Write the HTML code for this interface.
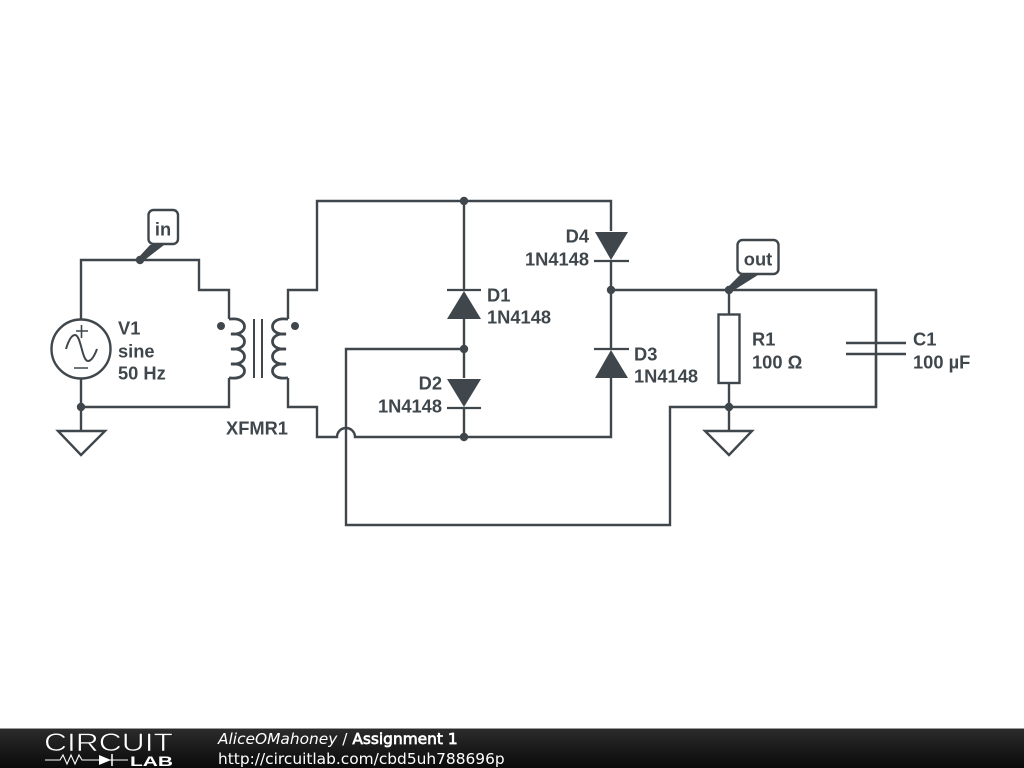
<!DOCTYPE html>
<html>
<head>
<meta charset="utf-8">
<style>
html,body{margin:0;padding:0;background:#fff;width:1024px;height:768px;overflow:hidden}
svg{display:block;position:absolute;left:0;top:0}
.t{font-family:"Liberation Sans",sans-serif;font-weight:bold;font-size:18.3px;fill:#3f474c}
.f{font-family:"DejaVu Sans",sans-serif;font-size:15.4px;fill:#fff}
</style>
</head>
<body>
<svg width="1024" height="768" viewBox="0 0 1024 768" xmlns="http://www.w3.org/2000/svg">
<defs>
<linearGradient id="g" x1="0" y1="0" x2="0" y2="1"><stop offset="0" stop-color="#2b2b2b"/><stop offset="1" stop-color="#0a0a0a"/></linearGradient>
</defs>
<rect width="1024" height="768" fill="#fff"/>
<g fill="none" stroke="#3f474c" stroke-width="2.4">
<!-- left loop -->
<path d="M81 319V260H199V290H229V319"/>
<path d="M81 378V407H229V378"/>
<path d="M81 407V431"/>
<path d="M58 431H105L81 455Z"/>
<circle cx="81" cy="349" r="29.5"/>
<path d="M81.500 325V338M76 331H88M74 368H88" stroke-width="1.6"/>
<path d="M66 349C69 339 72 335 75 335C81 335 82 361 88 361C91 361 94 357 97 349" stroke-width="2"/>
<!-- transformer -->
<path d="M229 319H231C249 317 249 336 231 334C249 332 249 351 231 349C249 347 249 366 231 364C249 362 249 380 231 378H229" stroke-width="2.8"/>
<path d="M288 319H286C268 317 268 336 286 334C268 332 268 351 286 349C268 347 268 366 286 364C268 362 268 380 286 378H288" stroke-width="2.8"/>
<path d="M254 319V378M262 319V378" stroke-width="2"/>
<!-- secondary -->
<path d="M288 319V290H317V201H611V231"/>
<path d="M288 378V407H317V437H337A9 9 0 0 1 355 437H611V378"/>
<!-- bridge -->
<path d="M464 201V290"/>
<path d="M464 319V378M464 408V437"/>
<path d="M464 349H346V525H670V407H876V290H611"/>
<path d="M611 261V349"/>
<path d="M447 290H481M447 408H481M594 261H629M594 349H629" stroke-width="2.2"/>
<!-- R1, C1 -->
<path d="M729 290V314M729 383V431"/>
<rect x="718.500" y="314.500" width="21" height="68.500" fill="#fff"/>
<path d="M705 431H752L729 455Z"/>
<path d="M876 290V343M876 354V407"/>
<path d="M846 343H906M846 354H906"/>
<!-- labels boxes -->
<rect x="148.500" y="210" width="29.500" height="34" rx="5" fill="#fff"/>
<rect x="737.500" y="240" width="41" height="34" rx="5" fill="#fff"/>
</g>
<g fill="#3f474c">
<polygon points="447,319 481,319 464,291"/>
<polygon points="447,379 481,379 464,407"/>
<polygon points="595,232 628,232 611,260"/>
<polygon points="595,378 628,378 611,350"/>
<polygon points="138,258 142,262 164,245 150,245"/>
<polygon points="727,288 731,292 758,275 740,275"/>
<circle cx="140" cy="260" r="4.200"/>
<circle cx="81" cy="407" r="4.200"/>
<circle cx="464" cy="201" r="4.200"/>
<circle cx="464" cy="349" r="4.200"/>
<circle cx="464" cy="437" r="4.200"/>
<circle cx="611" cy="290" r="4.200"/>
<circle cx="729" cy="290" r="4.200"/>
<circle cx="729" cy="407" r="4.200"/>
<circle cx="221" cy="326" r="4"/>
<circle cx="295" cy="326" r="4"/>
</g>
<g transform="translate(0,0.5)">
<text class="t" x="163" y="235" text-anchor="middle">in</text>
<text class="t" x="758" y="265" text-anchor="middle">out</text>
<text class="t" x="118" y="334">V1</text>
<text class="t" x="118" y="357">sine</text>
<text class="t" x="118" y="379">50 Hz</text>
<text class="t" x="226" y="434">XFMR1</text>
<text class="t" x="487" y="301">D1</text>
<text class="t" x="487" y="323">1N4148</text>
<text class="t" x="442" y="389" text-anchor="end">D2</text>
<text class="t" x="442" y="412" text-anchor="end">1N4148</text>
<text class="t" x="634" y="360">D3</text>
<text class="t" x="634" y="382">1N4148</text>
<text class="t" x="589" y="242" text-anchor="end">D4</text>
<text class="t" x="589" y="265" text-anchor="end">1N4148</text>
<text class="t" x="752" y="345">R1</text>
<text class="t" x="752" y="368">100 Ω</text>
<text class="t" x="913" y="345">C1</text>
<text class="t" x="913" y="368">100 µF</text>
</g>
<!-- footer -->
<rect x="0" y="729" width="1024" height="39" fill="url(#g)"/>
<rect x="0" y="728" width="1024" height="1" fill="#9a9a9a"/>
<text x="44" y="751" font-family="Liberation Sans, sans-serif" font-size="25" fill="#fff" stroke="#1c1c1c" stroke-width="0.6" textLength="129" lengthAdjust="spacingAndGlyphs">CIRCUIT</text>
<text x="130" y="766" font-family="Liberation Sans, sans-serif" font-size="14" font-weight="bold" fill="#fff" textLength="43" lengthAdjust="spacingAndGlyphs">LAB</text>
<path d="M45 760H60L63 755L67 764L71 755L75 764L79 755L82 760H128" fill="none" stroke="#fff" stroke-width="1.1"/>
<polygon points="99,755 99,765 111,760" fill="#fff"/>
<path d="M112 754V766" stroke="#fff" stroke-width="1.5"/>
<text class="f" x="218" y="744"><tspan font-style="italic">AliceOMahoney</tspan> / <tspan stroke="#fff" stroke-width="0.7">Assignment 1</tspan></text>
<text class="f" x="218" y="764">http://circuitlab.com/cbd5uh788696p</text>
</svg>
</body>
</html>
